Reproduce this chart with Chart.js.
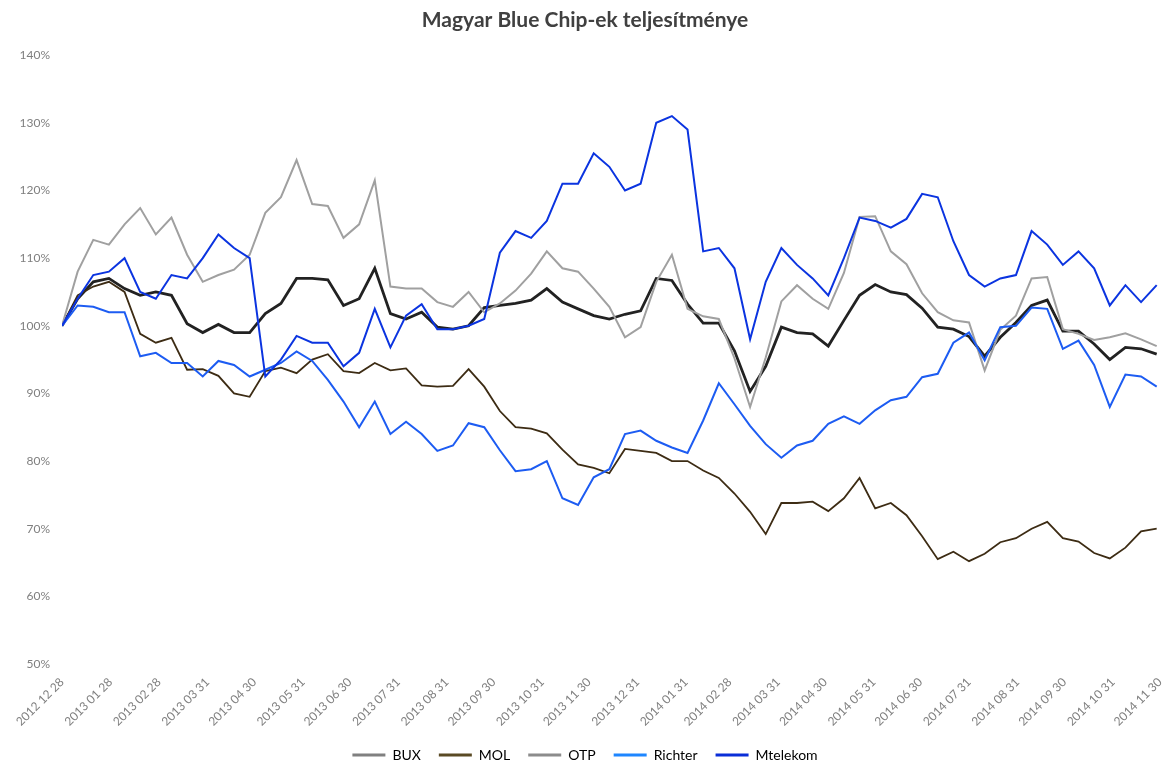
<!DOCTYPE html>
<html>
<head>
<meta charset="utf-8">
<title>Magyar Blue Chip-ek teljesítménye</title>
<script src="https://cdn.jsdelivr.net/npm/chart.js@4"></script>
<style>
  html, body { margin: 0; padding: 0; background: #fff; }
  .forChart { width: 1173px; height: 762px; }
</style>
</head>
<body>
<div class="forChart"><canvas id="perf_chart"></canvas></div>
<script>
// napok 2012-12-28 ota (10 naponkent mintavetelezve)
var days = []
for (let d = 0; d <= 700; d += 10) { days.push(d) }

// tengely feliratok
var tickDays = [0, 31, 62, 93, 123, 154, 184, 215, 246, 276, 307, 337, 368, 399, 427, 458, 488, 519, 549, 580, 611, 641, 672, 702]
var tickLabels = ['2012 12 28', '2013 01 28', '2013 02 28', '2013 03 31', '2013 04 30', '2013 05 31', '2013 06 30',
  '2013 07 31', '2013 08 31', '2013 09 30', '2013 10 31', '2013 11 30', '2013 12 31', '2014 01 31', '2014 02 28',
  '2014 03 31', '2014 04 30', '2014 05 31', '2014 06 30', '2014 07 31', '2014 08 31', '2014 09 30', '2014 10 31', '2014 11 30']

var seriesNames = ['BUX', 'MOL', 'OTP', 'Richter', 'Mtelekom']

// ertekek %-ban (kiindulas = 100)
var bux = [100, 104, 106.5, 107, 105.5, 104.5, 105, 104.5, 100.3, 99, 100.2, 99, 99, 101.8, 103.3, 107, 107, 106.8, 103, 104,
  108.5, 101.8, 101, 102, 99.8, 99.5, 100, 102.7, 103, 103.3, 103.8, 105.5, 103.5, 102.5, 101.5, 101, 101.7, 102.2, 107, 106.7,
  103.2, 100.4, 100.4, 96.3, 90.3, 94, 99.8, 99, 98.8, 97, 100.8, 104.5, 106.1, 105, 104.6, 102.6, 99.8, 99.5, 98.4, 95.5,
  98.3, 100.5, 103, 103.8, 99.2, 99.2, 97.3, 95, 96.8, 96.6, 95.8]
var mol = [100, 104.5, 105.8, 106.5, 105, 98.8, 97.5, 98.2, 93.5, 93.6, 92.6, 90, 89.5, 93.3, 93.8, 93, 95, 95.8, 93.3, 93,
  94.5, 93.4, 93.7, 91.2, 91, 91.1, 93.6, 91, 87.4, 85, 84.8, 84.1, 81.7, 79.5, 79, 78.2, 81.8, 81.5, 81.2, 80,
  80, 78.6, 77.5, 75.2, 72.5, 69.2, 73.8, 73.8, 74, 72.6, 74.5, 77.5, 73, 73.8, 72, 68.9, 65.5, 66.6, 65.2, 66.3,
  68, 68.6, 70, 71, 68.6, 68.1, 66.4, 65.6, 67.2, 69.6, 70]
var otp = [100, 108, 112.7, 112, 115, 117.4, 113.5, 116, 110.5, 106.5, 107.5, 108.3, 110.5, 116.7, 119, 124.5, 118, 117.7, 113, 115,
  121.5, 105.8, 105.5, 105.5, 103.5, 102.8, 105, 102, 103.3, 105.2, 107.7, 111, 108.5, 108, 105.5, 102.8, 98.3, 99.8, 106.5, 110.5,
  102.5, 101.4, 101, 95.2, 88, 95.3, 103.6, 106, 104, 102.5, 107.8, 116.1, 116.2, 111, 109.1, 104.8, 102, 100.8, 100.5, 93.4,
  99.4, 101.5, 107, 107.2, 99.5, 98.8, 97.9, 98.3, 98.9, 98, 97]
var richter = [100, 103, 102.8, 102, 102, 95.5, 96, 94.5, 94.5, 92.5, 94.8, 94.2, 92.5, 93.5, 94.5, 96.2, 94.8, 92, 88.8, 85,
  88.8, 84, 85.8, 84, 81.5, 82.3, 85.6, 85, 81.6, 78.5, 78.8, 80, 74.5, 73.5, 77.6, 78.8, 84, 84.5, 83, 82,
  81.2, 86, 91.5, 88.4, 85.2, 82.5, 80.5, 82.3, 83, 85.5, 86.6, 85.5, 87.5, 89, 89.5, 92.4, 92.9, 97.5, 99, 94.9,
  99.8, 100, 102.7, 102.5, 96.6, 97.8, 94.2, 88, 92.8, 92.5, 91]
var mtelekom = [100, 104, 107.5, 108, 110, 105, 104, 107.5, 107, 110, 113.5, 111.5, 110, 92.5, 95, 98.5, 97.5, 97.5, 94, 96,
  102.5, 96.8, 101.5, 103.2, 99.5, 99.5, 100, 101, 110.8, 114, 113, 115.5, 121, 121, 125.5, 123.5, 120, 121, 130, 131,
  129, 111, 111.5, 108.5, 98, 106.5, 111.5, 109, 107, 104.5, 110, 116, 115.5, 114.5, 115.8, 119.5, 119, 112.5, 107.5, 105.8,
  107, 107.5, 114, 112, 109, 111, 108.5, 103, 106, 103.5, 106]

var lineColors = ['#222222', '#3d2c14', '#a0a0a0', '#1d5cf2', '#0b34e0']
var legendColors = ['#808080', '#5a4a24', '#8c8c8c', '#1e86ff', '#0a2ed8']
var lineWidths = [2.8, 1.8, 2, 2, 2]

function toPoints(values) {
  return values.map(function(v, i) { return { x: days[i], y: v } })
}

var allValues = [bux, mol, otp, richter, mtelekom]
var datasets = allValues.map(function(vals, i) {
  return {
    label: seriesNames[i],
    data: toPoints(vals),
    borderColor: lineColors[i],
    backgroundColor: legendColors[i],
    borderWidth: lineWidths[i],
    pointRadius: 0,
    tension: 0,
    order: 5 - i
  }
})

var config = {
  type: 'line',
  data: { datasets: datasets },
  options: {
    responsive: true,
    maintainAspectRatio: false,
    animation: false,
    layout: { padding: { left: 0, right: 3, top: 0, bottom: -10 } },
    plugins: {
      title: {
        display: true,
        text: 'Magyar Blue Chip-ek teljesítménye',
        color: '#404040',
        font: { family: 'Lato', size: 21, weight: 'bold' },
        padding: { top: 8, bottom: 22 }
      },
      legend: {
        position: 'bottom',
        labels: {
          boxWidth: 33,
          boxHeight: 3,
          color: '#595959',
          font: { family: 'Lato', size: 14 },
          padding: 18,
          generateLabels: function(chart) {
            return chart.data.datasets.map(function(ds, i) {
              return { text: ds.label, fillStyle: legendColors[i], strokeStyle: legendColors[i], lineWidth: 0, hidden: false, datasetIndex: i }
            })
          }
        }
      },
      tooltip: { enabled: false }
    },
    scales: {
      x: {
        type: 'linear',
        min: 0,
        max: 702,
        grid: { display: false },
        border: { display: false },
        afterBuildTicks: function(scale) {
          scale.ticks = tickDays.map(function(d) { return { value: d } })
        },
        afterFit: function(scale) { scale.height = 66 },
        ticks: {
          autoSkip: false,
          minRotation: 45,
          maxRotation: 45,
          color: '#7f7f7f',
          font: { family: 'Lato', size: 12 },
          padding: 3,
          callback: function(value) {
            var idx = tickDays.indexOf(value)
            return idx >= 0 ? tickLabels[idx] : ''
          }
        }
      },
      y: {
        min: 50,
        max: 140,
        grid: { display: false },
        border: { display: false },
        afterFit: function(scale) { scale.width = 62 },
        ticks: {
          stepSize: 10,
          color: '#7f7f7f',
          font: { family: 'Lato', size: 12 },
          padding: 4,
          callback: function(value) { return value + '%' }
        }
      }
    }
  }
}

var ctx = document.getElementById('perf_chart').getContext('2d')
var perfChart = new Chart(ctx, config)
</script>
</body>
</html>
